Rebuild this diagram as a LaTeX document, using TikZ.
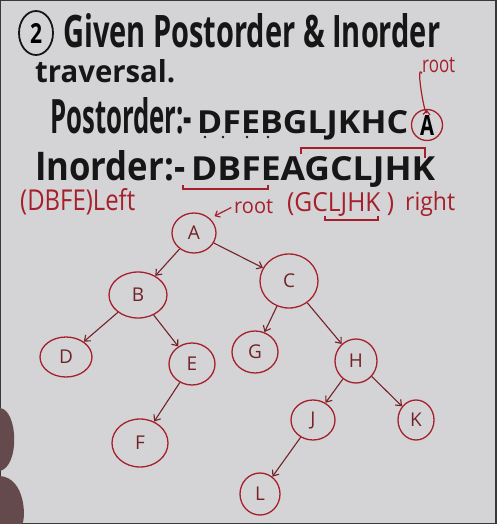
\documentclass[tikz,border=0pt]{standalone}
\usepackage{fontspec}
\setmainfont{Open Sans}
\usepackage{graphicx}
\usetikzlibrary{shapes.geometric,arrows.meta}

\definecolor{board}{RGB}{212,212,215}
\definecolor{ink}{RGB}{22,22,22}
\definecolor{marker}{RGB}{165,32,42}
\definecolor{branchred}{RGB}{115,35,40}
\definecolor{thumb}{RGB}{100,74,76}

% text squeezed to the width and height of the handwriting
\newcommand{\fitto}[3]{\resizebox{#1pt}{#2pt}{#3}}

\tikzset{
  hand/.style={anchor=base west, inner sep=0pt, text=ink, font=\bfseries},
  note/.style={anchor=base west, inner sep=0pt, text=marker},
  vertex/.style={ellipse, draw=marker, line width=1.3pt, inner sep=0pt, text=branchred,
    font=\fontsize{19}{19}\selectfont},
  branch/.style={draw=branchred, line width=1.1pt, -{Straight Barb[length=5pt,width=8pt]}},
  brace/.style={draw=marker, line width=1.4pt}
}

\begin{document}
\begin{tikzpicture}[x=1pt,y=1pt,yscale=-1]
		\useasboundingbox (0,0) rectangle (496,524);

		% Whiteboard and frame
		\fill[board] (0,0) rectangle (496,524);
		\draw[gray!45!black, line width=2.5pt] (0,0) rectangle (496,524);

		% Fingers at the left edge
		\fill[thumb] (0,408) .. controls (18,410) and (20,466) .. (0,471) -- cycle;
		\fill[thumb] (0,476) .. controls (26,478) and (26,520) .. (22,524) -- (0,524) -- cycle;

		% Heading
		\node[ellipse, draw=ink, line width=1.8pt, minimum width=34, minimum height=44, inner sep=0pt] (num) at (36,33) {\fitto{12}{20}{\bfseries 2}};
		\node[hand] (title) at (63,48) {\fitto{377}{34}{Given Postorder \& Inorder}};
		\node[hand] (trav) at (35,83) {\fitto{140}{23}{traversal.}};

		% Postorder line
		\node[hand] (postlab) at (50,133) {\fitto{142}{36}{Postorder:-}};
		\node[hand] (postseq) at (197,133) {\fitto{211}{23}{DFEBGLJKHC}};
		\node[ellipse, draw=marker, line width=1.3pt, minimum width=31, minimum height=31, inner sep=0pt] (lastA) at (427,125) {\fitto{14}{20}{\bfseries A}};
		\foreach \dx in {205,223,247,268}
			\fill[ink] (\dx,137) circle (1.4);

		% Inorder line
		\node[hand] (inlab) at (35,180) {\fitto{150}{30}{Inorder:-}};
		\node[hand] (inseq) at (191,180) {\fitto{244}{24}{DBFEAGCLJHK}};

		% Red notes
		\node[note] (rootup) at (422,73) {\fitto{33}{15}{root}};
		\draw[marker, line width=1.2pt, -{Straight Barb[length=4pt,width=7pt]}, shorten >=1pt] (rootup.south west) to[out=240, in=95] (lastA.north);
		\node[note] (leftpart) at (20,210) {\fitto{115}{22}{(DBFE)Left}};
		\node[note] (rootA) at (234,213) {\fitto{39}{14}{root}};
		\node[note] (rightpart) at (287,211) {\fitto{107}{19}{(GCLJHK )}};
		\node[note] (rightword) at (405,210) {\fitto{50}{19}{right}};

		% Brackets
		\draw[brace] (183,185) -- (183,189) -- (268,189) -- (268,185);
		\draw[brace] (301,154) -- (301,148) -- (425,148) -- (425,158);
		\draw[brace] (325,216) -- (325,220) -- (378,220) -- (378,216);

		% Tree
		\node[vertex, minimum width=44, minimum height=40] (A) at (194,233) {A};
		\node[vertex, minimum width=58, minimum height=46] (B) at (138,295) {B};
		\node[vertex, minimum width=58, minimum height=54] (C) at (289,281) {C};
		\node[vertex, minimum width=52, minimum height=40] (D) at (66,357) {D};
		\node[vertex, minimum width=46, minimum height=42] (E) at (192,364) {E};
		\node[vertex, minimum width=46, minimum height=42] (G) at (255,352) {G};
		\node[vertex, minimum width=42, minimum height=44] (H) at (356,361) {H};
		\node[vertex, minimum width=56, minimum height=48] (F) at (140,443) {F};
		\node[vertex, minimum width=44, minimum height=40] (J) at (313,420) {J};
		\node[vertex, minimum width=36, minimum height=40] (K) at (416,420) {K};
		\node[vertex, minimum width=40, minimum height=42] (L) at (260,494) {L};

		\draw[marker, line width=1.2pt, -{Straight Barb[length=4pt,width=7pt]}, shorten <=3pt, shorten >=5pt] (rootA.west) -- (A.north east);

		\draw[branch] (A) -- (B);
		\draw[branch] (A) -- (C);
		\draw[branch] (B) -- (D);
		\draw[branch] (B) -- (E);
		\draw[branch] (E) -- (F);
		\draw[branch] (C) -- (G);
		\draw[branch] (C) -- (H);
		\draw[branch] (H) -- (J);
		\draw[branch] (H) -- (K);
		\draw[branch] (J) -- (L);
	\end{tikzpicture}
\end{document}
